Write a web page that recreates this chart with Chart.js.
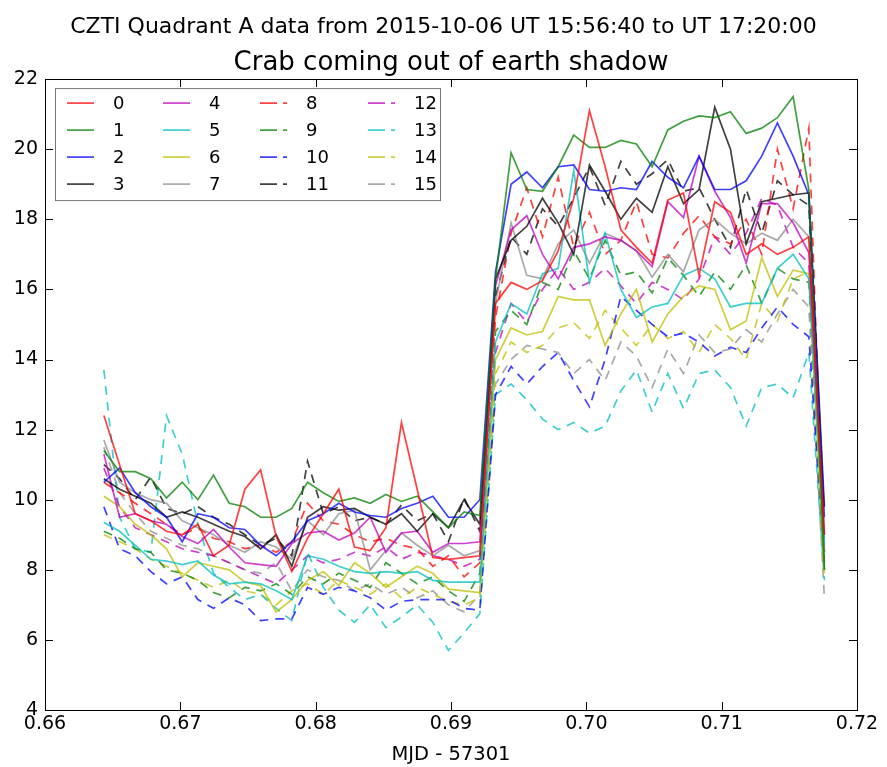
<!DOCTYPE html>
<html>
<head>
<meta charset="utf-8">
<script src="https://cdn.jsdelivr.net/npm/chart.js@4.4.1/dist/chart.umd.min.js"></script>
<style>
  html, body { margin: 0; padding: 0; background: #fff; }
</style>
</head>
<body>
<canvas id="chart" width="887" height="767"></canvas>
<script>
// time bins (MJD - 57301), 100 s each
const mjd = [
  0.66435, 0.66551, 0.66667, 0.66782, 0.66898, 0.67014, 0.67130, 0.67245, 0.67361, 0.67477,
  0.67593, 0.67708, 0.67824, 0.67940, 0.68056, 0.68171, 0.68287, 0.68403, 0.68519, 0.68634,
  0.68750, 0.68866, 0.68981, 0.69097, 0.69213, 0.69329, 0.69444, 0.69560, 0.69676, 0.69792,
  0.69907, 0.70023, 0.70139, 0.70255, 0.70370, 0.70486, 0.70602, 0.70718, 0.70833, 0.70949,
  0.71065, 0.71181, 0.71296, 0.71412, 0.71528, 0.71644, 0.71759
];

// count rate per module
const ch0 = [12.4, 11.0, 9.6, 9.4, 9.1, 9.0, 9.3, 8.4, 8.7, 10.3, 10.85, 8.95, 7.95, 8.9, 9.6, 10.3, 8.65, 8.55, 9.2, 12.2, 10.3, 8.35, 8.3, 8.35, 8.4,
  15.6, 16.2, 16.0, 16.25, 17.1, 18.6, 21.1, 19.5, 17.7, 17.2, 16.75, 18.55, 18.75, 16.4, 18.5, 18.2, 17.0, 17.3, 17.0, 17.2, 17.5, 9.0];
const ch1 = [11.4, 10.8, 10.8, 10.6, 10.05, 10.5, 10.0, 10.7, 9.9, 9.8, 9.5, 9.5, 9.75, 10.5, 10.2, 9.95, 10.05, 9.9, 10.15, 9.95, 10.1, 9.65, 9.2, 9.65, 9.55,
  16.3, 19.9, 18.85, 18.8, 19.5, 20.4, 20.05, 20.05, 20.25, 20.15, 19.5, 20.55, 20.8, 20.95, 20.9, 21.07, 20.45, 20.6, 20.9, 21.5, 18.85, 8.0];
const ch2 = [10.5, 10.9, 10.2, 9.8, 9.5, 8.8, 9.6, 9.5, 9.2, 9.15, 8.7, 8.4, 8.8, 9.4, 9.6, 9.9, 9.65, 9.55, 9.5, 9.75, 9.9, 10.1, 9.5, 9.5, 10.0,
  16.5, 19.0, 19.35, 18.9, 19.5, 19.55, 18.85, 18.8, 18.9, 18.85, 19.65, 19.2, 18.9, 19.8, 18.85, 18.85, 19.1, 19.8, 20.75, 19.8, 18.7, 9.5];
const ch3 = [10.6, 10.3, 10.1, 9.9, 9.5, 9.65, 9.5, 9.3, 9.1, 8.95, 8.6, 9.0, 8.1, 9.5, 9.8, 9.7, 9.75, 9.5, 9.3, 9.6, 9.1, 9.6, 9.2, 10.0, 9.3,
  16.3, 17.4, 17.8, 18.6, 17.9, 17.0, 19.55, 18.8, 18.0, 18.6, 18.2, 19.5, 18.45, 18.85, 21.2, 20.0, 17.3, 18.5, 18.6, 18.7, 18.75, 9.8];
const ch4 = [11.3, 9.5, 9.6, 9.4, 9.3, 8.95, 8.75, 9.15, 8.65, 8.2, 8.15, 8.1, 8.75, 9.05, 9.1, 8.85, 9.05, 9.5, 8.5, 9.05, 9.1, 8.5, 8.75, 8.75, 8.8,
  16.1, 17.7, 18.1, 17.0, 16.3, 17.2, 17.3, 17.5, 17.4, 17.1, 16.65, 18.5, 18.05, 19.8, 18.8, 18.05, 16.75, 18.45, 18.45, 17.9, 17.05, 9.0];
const ch5 = [9.35, 9.1, 8.7, 8.3, 8.25, 8.15, 8.25, 7.85, 7.6, 7.65, 7.6, 7.4, 7.15, 8.4, 8.3, 8.1, 7.95, 7.9, 7.95, 7.9, 7.95, 7.7, 7.65, 7.65, 7.65,
  14.5, 15.6, 15.3, 16.45, 16.6, 19.4, 16.2, 17.6, 16.0, 15.2, 15.5, 15.6, 16.4, 16.6, 16.3, 15.5, 15.6, 15.6, 16.6, 17.0, 16.3, 8.7];
const ch6 = [10.1, 9.8, 9.3, 9.0, 8.6, 7.8, 8.2, 8.1, 8.0, 7.65, 7.55, 6.8, 7.15, 7.7, 7.95, 7.55, 8.2, 7.9, 7.5, 7.8, 8.1, 7.9, 7.45, 7.4, 7.35,
  14.0, 14.9, 14.7, 14.8, 15.8, 15.7, 15.7, 14.4, 15.3, 16.0, 14.5, 15.3, 15.8, 16.1, 16.0, 14.85, 15.1, 16.9, 15.8, 16.55, 16.45, 7.9];
const ch7 = [11.7, 10.5, 10.2, 10.0, 9.9, 9.4, 9.2, 9.0, 8.7, 8.5, 8.8, 8.65, 8.3, 9.4, 9.0, 9.6, 9.7, 8.0, 8.55, 9.05, 8.7, 8.4, 8.7, 8.4, 8.55,
  15.6, 17.9, 16.4, 16.3, 17.3, 17.7, 16.75, 17.6, 17.4, 17.1, 16.35, 17.0, 16.5, 17.7, 18.0, 17.6, 17.3, 17.6, 17.4, 18.0, 17.5, 8.5];
const ch8 = [10.5, 10.2, 9.9, 9.6, 9.3, 9.0, 9.2, 8.9, 8.8, 8.6, 8.7, 8.5, 8.8, 9.9, 9.4, 9.3, 9.0, 8.8, 8.9, 8.7, 8.6, 8.1, 8.4, 7.8, 8.2,
  15.2, 17.6, 18.9, 17.5, 19.2, 17.2, 18.2, 17.0, 17.4, 18.5, 17.0, 16.9, 17.6, 18.1, 17.5, 17.3, 18.0, 17.0, 20.0, 18.3, 20.6, 8.0];
const ch9 = [9.1, 8.9, 8.6, 8.5, 8.0, 7.9, 7.7, 7.35, 7.2, 7.5, 7.4, 7.6, 7.3, 7.8, 7.6, 7.9, 7.7, 7.5, 8.2, 7.9, 7.6, 7.8, 7.4, 7.1, 7.9,
  14.8, 15.4, 15.0, 16.2, 16.0, 17.1, 16.3, 17.4, 16.4, 16.5, 15.9, 16.9, 16.4, 15.8, 16.5, 16.0, 16.7, 15.6, 16.6, 16.3, 16.2, 8.0];
const ch10 = [9.8, 8.6, 8.4, 7.95, 7.6, 7.8, 7.15, 6.9, 7.2, 7.0, 6.55, 6.6, 6.6, 7.5, 7.3, 7.5, 7.4, 7.2, 6.85, 7.1, 7.15, 7.15, 7.15, 6.9, 6.85,
  13.0, 13.8, 13.3, 13.8, 14.2, 13.4, 12.65, 14.0, 15.8, 15.4, 15.0, 14.65, 14.75, 14.5, 14.1, 14.35, 14.2, 14.9, 15.5, 15.0, 14.65, 8.2];
const ch11 = [11.0, 10.6, 10.0, 10.65, 9.75, 9.6, 9.8, 9.5, 9.3, 9.0, 8.7, 8.9, 8.4, 11.1, 9.6, 9.8, 9.4, 9.5, 9.3, 9.85, 9.4, 9.6, 8.8, 10.05, 9.1,
  15.8, 17.5, 17.0, 18.3, 17.8, 18.6, 19.5, 18.4, 19.65, 19.0, 19.3, 19.7, 18.8, 18.9, 18.0, 17.2, 18.85, 17.6, 19.1, 18.7, 18.4, 8.5];
const ch12 = [10.9, 9.8, 9.2, 9.0, 8.8, 8.6, 8.5, 8.4, 8.2, 8.0, 7.8, 7.6, 8.0, 8.4, 8.2, 8.3, 8.5, 8.4, 8.65, 8.3, 8.5, 8.4, 8.3, 8.1, 8.3,
  14.2, 15.6, 15.05, 16.0, 16.6, 16.0, 16.2, 16.6, 16.1, 15.6, 16.2, 16.0, 15.7, 16.3, 17.5, 17.0, 17.6, 18.6, 18.4, 17.2, 16.75, 8.5];
const ch13 = [13.7, 9.5, 8.6, 8.5, 12.4, 11.3, 9.3, 7.9, 7.5, 7.15, 7.3, 6.9, 6.55, 8.5, 7.5, 6.85, 6.5, 7.0, 6.35, 6.65, 7.0, 6.5, 5.7, 6.2, 6.75,
  13.0, 13.3, 12.85, 12.3, 12.0, 12.2, 11.9, 12.1, 13.1, 13.7, 12.5, 13.6, 12.6, 13.6, 13.7, 13.2, 12.1, 13.2, 13.3, 12.9, 14.2, 7.7];
const ch14 = [9.0, 8.8, 8.6, 8.3, 8.1, 7.9, 7.7, 7.5, 7.7, 7.4, 7.3, 7.0, 7.4, 7.6, 7.3, 7.7, 7.5, 7.3, 7.6, 7.2, 7.5, 7.3, 7.1, 7.0, 7.2,
  13.6, 14.5, 14.2, 14.4, 14.9, 15.05, 14.6, 15.4, 14.9, 14.4, 15.0, 14.6, 14.8, 14.2, 15.0, 14.6, 14.0, 15.6, 15.1, 16.3, 16.5, 8.0];
const ch15 = [11.5, 10.2, 9.6, 9.1, 8.9, 8.7, 8.6, 8.4, 8.2, 8.0, 7.9, 8.2, 7.4, 8.0, 7.8, 7.7, 7.4, 7.6, 7.3, 7.5, 7.2, 7.4, 7.0, 6.8, 7.3,
  13.3, 14.0, 14.4, 14.3, 14.2, 13.6, 14.0, 13.4, 14.5, 14.1, 13.2, 14.3, 13.6, 14.7, 14.2, 14.3, 14.85, 14.5, 15.3, 16.0, 15.5, 7.2];

const channels = [ch0, ch1, ch2, ch3, ch4, ch5, ch6, ch7, ch8, ch9, ch10, ch11, ch12, ch13, ch14, ch15];
const chNames = ['0', '1', '2', '3', '4', '5', '6', '7', '8', '9', '10', '11', '12', '13', '14', '15'];

const xTickMin = 0.66, xTickMax = 0.72, xTickStep = 0.01;
const yTickMin = 4, yTickMax = 22, yTickStep = 2;

const lineColors = [
  'rgba(255,0,0,0.75)', 'rgba(0,128,0,0.75)', 'rgba(0,0,255,0.75)', 'rgba(0,0,0,0.75)',
  'rgba(191,0,191,0.75)', 'rgba(0,191,191,0.75)', 'rgba(191,191,0,0.75)', 'rgba(140,140,140,0.75)'
];
const dashPattern = [9, 7];

Chart.defaults.font.family = "'DejaVu Sans', sans-serif";
Chart.defaults.color = '#000';

const datasets = channels.map((vals, k) => ({
  label: chNames[k],
  data: vals.map((v, i) => ({ x: mjd[i], y: v })),
  borderColor: lineColors[k % 8],
  borderWidth: 1.7,
  borderDash: k < 8 ? [] : dashPattern,
  pointRadius: 0,
  tension: 0,
  fill: false,
}));

// matplotlib-style frame with inward ticks on all sides
const frameTicks = {
  id: 'frameTicks',
  afterDatasetsDraw(chart) {
    const { ctx, chartArea: a, scales } = chart;
    const len = 8;
    ctx.save();
    ctx.strokeStyle = '#000';
    ctx.lineWidth = 1;
    ctx.beginPath();
    scales.x.ticks.forEach((t) => {
      const px = Math.round(scales.x.getPixelForValue(t.value)) + 0.5;
      ctx.moveTo(px, a.bottom); ctx.lineTo(px, a.bottom - len);
      ctx.moveTo(px, a.top); ctx.lineTo(px, a.top + len);
    });
    scales.y.ticks.forEach((t) => {
      const py = Math.round(scales.y.getPixelForValue(t.value)) + 0.5;
      ctx.moveTo(a.left, py); ctx.lineTo(a.left + len, py);
      ctx.moveTo(a.right, py); ctx.lineTo(a.right - len, py);
    });
    ctx.stroke();
    ctx.strokeRect(Math.round(a.left) + 0.5, Math.round(a.top) + 0.5, Math.round(a.width), Math.round(a.height));
    ctx.restore();
  },
};

// 4-column legend, filled column by column
const gridLegend = {
  id: 'gridLegend',
  afterDatasetsDraw(chart) {
    const { ctx, chartArea: a } = chart;
    const bx = a.left + 10, by = a.top + 9, bw = 385, bh = 112;
    const colX = [12, 108, 205, 313];
    const rowY = 15, rowStep = 27;
    ctx.save();
    ctx.fillStyle = '#fff';
    ctx.fillRect(bx, by, bw, bh);
    ctx.strokeStyle = '#777';
    ctx.lineWidth = 1;
    ctx.strokeRect(bx + 0.5, by + 0.5, bw, bh);
    ctx.font = "18px 'DejaVu Sans'";
    ctx.textBaseline = 'middle';
    ctx.textAlign = 'left';
    chart.data.datasets.forEach((ds, k) => {
      const col = Math.floor(k / 4), row = k % 4;
      const x0 = bx + colX[col], y0 = by + rowY + row * rowStep;
      ctx.strokeStyle = ds.borderColor;
      ctx.lineWidth = ds.borderWidth;
      ctx.setLineDash(ds.borderDash.length ? [17, 6] : []);
      ctx.beginPath();
      ctx.moveTo(x0, y0);
      ctx.lineTo(x0 + 27, y0);
      ctx.stroke();
      ctx.setLineDash([]);
      ctx.fillStyle = '#000';
      ctx.fillText(ds.label, x0 + 46, y0 + 1);
    });
    ctx.restore();
  },
};

new Chart(document.getElementById('chart'), {
  type: 'line',
  data: { datasets },
  plugins: [frameTicks, gridLegend],
  options: {
    responsive: false,
    animation: false,
    layout: { padding: 0 },
    plugins: {
      legend: { display: false },
      tooltip: { enabled: false },
      title: {
        display: true,
        text: 'CZTI Quadrant A data from 2015-10-06 UT 15:56:40 to UT 17:20:00',
        font: { size: 22, weight: 'normal' },
        color: '#000',
        padding: { top: 14, bottom: 1 },
      },
      subtitle: {
        display: true,
        fullSize: false,
        text: 'Crab coming out of earth shadow',
        font: { size: 26 },
        color: '#000',
        padding: { top: 6.5, bottom: 0 },
      },
    },
    scales: {
      x: {
        type: 'linear',
        min: xTickMin,
        max: xTickMax,
        grid: { display: false, drawTicks: false },
        border: { display: false },
        ticks: {
          stepSize: xTickStep,
          font: { size: 19 },
          padding: 3,
          maxRotation: 0,
          callback: (v) => v.toFixed(2),
        },
        title: { display: true, text: 'MJD - 57301', font: { size: 19.5 }, padding: { top: 0, bottom: 0 } },
        afterFit: (s) => { s.height = 57; },
      },
      y: {
        min: yTickMin,
        max: yTickMax,
        grid: { display: false, drawTicks: false },
        border: { display: false },
        ticks: { stepSize: yTickStep, font: { size: 19 }, padding: 7 },
        afterFit: (s) => { s.width = 45; },
      },
      // empty strip on the right, keeps the plot where the figure has it
      yRight: {
        position: 'right',
        min: yTickMin,
        max: yTickMax,
        grid: { display: false, drawTicks: false },
        border: { display: false },
        ticks: { display: false },
        afterFit: (s) => { s.width = 30; },
      },
    },
  },
});
</script>
</body>
</html>
